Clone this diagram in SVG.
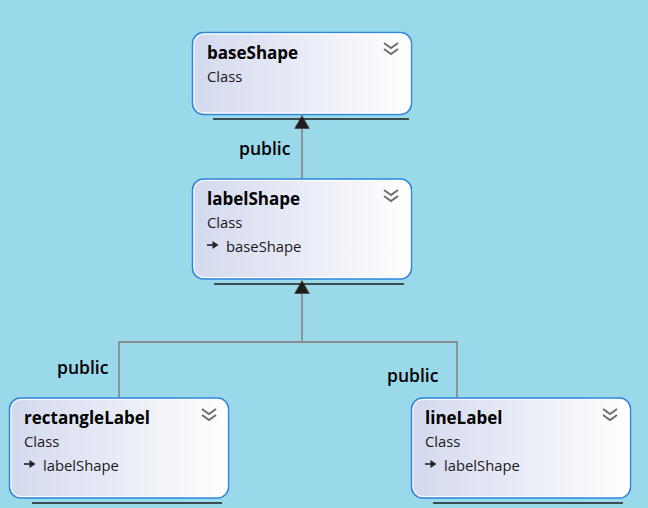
<svg xmlns="http://www.w3.org/2000/svg" width="648" height="508" viewBox="0 0 648 508">
<defs>
<linearGradient id="boxfill" x1="0" y1="0" x2="1" y2="0">
<stop offset="0" stop-color="#D3D9EE"/>
<stop offset="1" stop-color="#FFFFFF"/>
</linearGradient>
<marker id="tri" markerUnits="userSpaceOnUse" viewBox="0 0 14 16" markerWidth="14" markerHeight="16" refX="14" refY="8" orient="auto">
<path d="M0,0 L14,8 L0,16 z" fill="#1E1E1E" stroke="#9A9A9A" stroke-width="0.8"/>
</marker>
<g id="chev"><path d="M0,0 l7,5 l7,-5 M0,6 l7,5 l7,-5" fill="none" stroke="#6E6E6E" stroke-width="2"/></g>
<g id="inh"><path d="M0,0 H7" stroke="#222" stroke-width="1.6"/><path d="M5.5,-4 L11.5,0 L5.5,4 z" fill="#222"/></g>
</defs>
<style>
.box{fill:url(#boxfill);stroke:#2F86DE;stroke-width:1.5}
.inner{fill:none;stroke:#FFFFFF;stroke-width:1}
.shadow{stroke:#1E1E1E;stroke-width:1.5}
.title{font-family:"Open Sans","Noto Sans",sans-serif;font-weight:700;font-size:17px;fill:#000}
.sub{font-family:"Open Sans","Noto Sans",sans-serif;font-size:14.8px;fill:#1A1A1A}
.lbl{font-family:"Open Sans","Noto Sans",sans-serif;font-weight:600;font-size:17.5px;fill:#000}
.conn{fill:none;stroke:#8C8C8C;stroke-width:1.8}
</style>
<rect width="648" height="508" fill="#99D9EA"/>
<g id="connectors">
<path class="conn" d="M302,179 V115" marker-end="url(#tri)"/>
<path class="conn" d="M119,398 V342 H302 V280" marker-end="url(#tri)"/>
<path class="conn" d="M457,398 V342 H302"/>
<text class="lbl" x="239" y="155">public</text>
<text class="lbl" x="57" y="374">public</text>
<text class="lbl" x="387" y="382">public</text>
</g>
<g id="baseShape">
<line class="shadow" x1="213" y1="119" x2="409" y2="119"/>
<rect class="box" x="192.5" y="32.5" width="219" height="82" rx="11"/>
<rect class="inner" x="194" y="34" width="216" height="79" rx="10"/>
<text class="title" x="207" y="59">baseShape</text>
<text class="sub" x="207" y="82">Class</text>
<use href="#chev" x="384" y="43"/>
</g>
<g id="labelShape">
<line class="shadow" x1="214" y1="284" x2="404" y2="284"/>
<rect class="box" x="192.5" y="179" width="219" height="100" rx="11"/>
<rect class="inner" x="194" y="180.5" width="216" height="97" rx="10"/>
<text class="title" x="207" y="205">labelShape</text>
<text class="sub" x="207" y="228">Class</text>
<use href="#inh" x="207" y="245"/>
<text class="sub" x="226" y="252">baseShape</text>
<use href="#chev" x="384" y="190"/>
</g>
<g id="rectangleLabel">
<line class="shadow" x1="32" y1="503" x2="222" y2="503"/>
<rect class="box" x="9.5" y="398" width="219" height="100" rx="11"/>
<rect class="inner" x="11" y="399.5" width="216" height="97" rx="10"/>
<text class="title" x="24" y="424">rectangleLabel</text>
<text class="sub" x="24" y="447">Class</text>
<use href="#inh" x="24" y="464"/>
<text class="sub" x="43" y="471">labelShape</text>
<use href="#chev" x="202" y="409"/>
</g>
<g id="lineLabel">
<line class="shadow" x1="433" y1="503" x2="623" y2="503"/>
<rect class="box" x="411.5" y="398" width="219" height="100" rx="11"/>
<rect class="inner" x="413" y="399.5" width="216" height="97" rx="10"/>
<text class="title" x="425" y="424">lineLabel</text>
<text class="sub" x="425" y="447">Class</text>
<use href="#inh" x="425" y="464"/>
<text class="sub" x="444" y="471">labelShape</text>
<use href="#chev" x="603" y="409"/>
</g>
</svg>
